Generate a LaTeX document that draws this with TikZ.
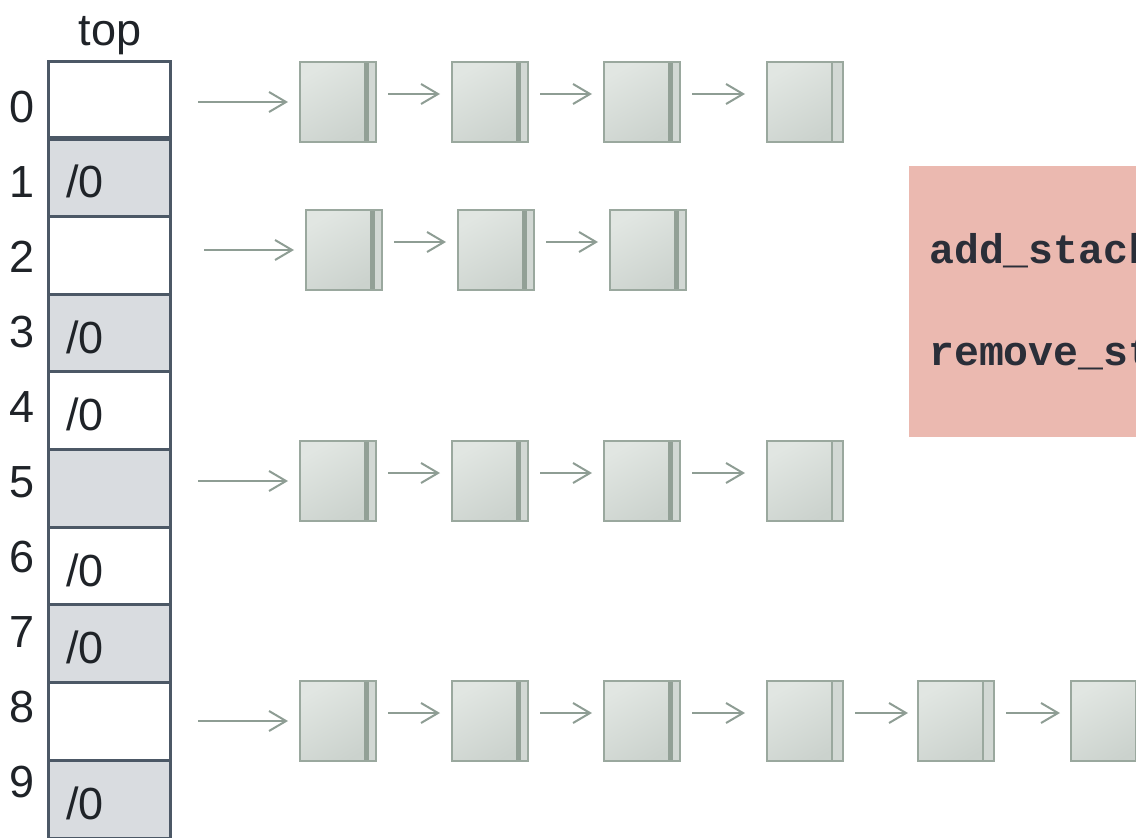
\documentclass[tikz,border=0pt]{standalone}
\usepackage{fontspec}
\setmainfont{Liberation Sans}
\newfontfamily\codefont{Liberation Mono}
\usetikzlibrary{arrows.meta}

\definecolor{slotline}{HTML}{4C5866}
\definecolor{slotgray}{HTML}{D9DCE0}
\definecolor{inkdark}{HTML}{1F2328}
\definecolor{cellline}{HTML}{9AA89E}
\definecolor{celltop}{HTML}{E1E6E2}
\definecolor{cellbot}{HTML}{CBD2CD}
\definecolor{cellstrip}{HTML}{D2D8D4}
\definecolor{linkcol}{HTML}{8E9D94}
\definecolor{notecol}{HTML}{EBB9B0}
\definecolor{codeink}{HTML}{2A2E38}

\tikzset{
  slot/.style={draw=slotline, line width=3pt, rectangle, anchor=north west,
    minimum width=122pt, minimum height=77.7pt, inner sep=0pt, outer sep=0pt},
  idx/.style={font=\fontsize{45}{50}\selectfont, text=inkdark, anchor=base, inner sep=0pt},
  nul/.style={font=\fontsize{45}{50}\selectfont, text=inkdark, anchor=base west, inner sep=0pt},
  cellbase/.style={rectangle, draw=cellline, line width=2pt, anchor=north west,
    minimum width=76pt, minimum height=80pt, inner sep=0pt, outer sep=0pt,
    top color=celltop, bottom color=cellbot, shading angle=30},
  cellthick/.style={cellbase, path picture={
      \fill[cellstrip] ([xshift=-7pt]path picture bounding box.north east)
        rectangle (path picture bounding box.south east);
      \fill[cellline!95!black] ([xshift=-12pt]path picture bounding box.north east)
        rectangle ([xshift=-7pt]path picture bounding box.south east);}},
  cellthin/.style={cellbase, path picture={
      \fill[cellstrip] ([xshift=-11pt]path picture bounding box.north east)
        rectangle (path picture bounding box.south east);
      \draw[cellline, line width=2pt] ([xshift=-11pt]path picture bounding box.north east)
        -- ([xshift=-11pt]path picture bounding box.south east);}},
  link/.style={draw=linkcol, line width=2pt, -{Straight Barb[length=17pt,width=20pt,line width=2pt]}},
  code/.style={font=\codefont\bfseries\fontsize{41.5}{46}\selectfont, text=codeink,
    anchor=base west, inner sep=0pt},
}

\begin{document}
\begin{tikzpicture}[x=1pt, y=-1pt]
\useasboundingbox (0,0) rectangle (1136,838);
\clip (0,0) rectangle (1136,838);

% ---- stack of list heads ----
\node[idx] (toplbl) at (110,45) {top};
\foreach \k in {0,...,9} {
  \pgfmathsetmacro{\ytop}{61+77.7*\k}
  \pgfmathtruncatemacro{\odd}{mod(\k,2)}
  \ifnum\odd=1
    \node[slot, fill=slotgray] (r\k) at (48,\ytop) {};
  \else
    \node[slot, fill=white] (r\k) at (48,\ytop) {};
  \fi
  \pgfmathsetmacro{\ybase}{122+75.1*\k}
  \node[idx] (i\k) at (22,\ybase) {\k};
}
\draw[slotline, line width=5pt] (r0.south west) -- (r0.south east);
\foreach \k in {1,3,4,6,7,9} {
  \node[nul] (z\k) at ([xshift=18pt, yshift=-59pt]r\k.north west) {/0};
}

% ---- chain hanging from slot 0 ----
\node[cellthick] (a1) at (300,62) {};
\node[cellthick] (a2) at (452,62) {};
\node[cellthick] (a3) at (604,62) {};
\node[cellthin]  (a4) at (767,62) {};

% ---- chain hanging from slot 2 ----
\node[cellthick] (b1) at (306,210) {};
\node[cellthick] (b2) at (458,210) {};
\node[cellthick] (b3) at (610,210) {};

% ---- chain hanging from slot 5 ----
\node[cellthick] (c1) at (300,441) {};
\node[cellthick] (c2) at (452,441) {};
\node[cellthick] (c3) at (604,441) {};
\node[cellthin]  (c4) at (767,441) {};

% ---- chain hanging from slot 8 ----
\node[cellthick] (d1) at (300,681) {};
\node[cellthick] (d2) at (452,681) {};
\node[cellthick] (d3) at (604,681) {};
\node[cellthin]  (d4) at (767,681) {};
\node[cellthin]  (d5) at (918,681) {};
\node[cellthin]  (d6) at (1071,681) {};

% ---- head pointers ----
\draw[link, shorten <=28pt, shorten >=12pt] (a1.west -| r0.east) -- (a1.west);
\draw[link, shorten <=34pt, shorten >=12pt] (b1.west -| r2.east) -- (b1.west);
\draw[link, shorten <=28pt, shorten >=12pt] (c1.west -| r5.east) -- (c1.west);
\draw[link, shorten <=28pt, shorten >=12pt] (d1.west -| r8.east) -- (d1.west);

% ---- next pointers ----
\foreach \p/\q/\e in {a1/a2/12, a2/a3/12, a3/a4/22,
                      b1/b2/12, b2/b3/12,
                      c1/c2/12, c2/c3/12, c3/c4/22,
                      d1/d2/12, d2/d3/12, d3/d4/22, d4/d5/10, d5/d6/11} {
  \draw[link] ([xshift=12pt, yshift=8pt]\p.east) -- ([xshift=-\e pt, yshift=8pt]\q.west);
}

% ---- operations note ----
\fill[notecol] (909,166) rectangle (1136,437);
\node[code] (op1) at (929,263) {add\_stack};
\node[code] (op2) at (929,365) {remove\_stack};
\end{tikzpicture}
\end{document}
